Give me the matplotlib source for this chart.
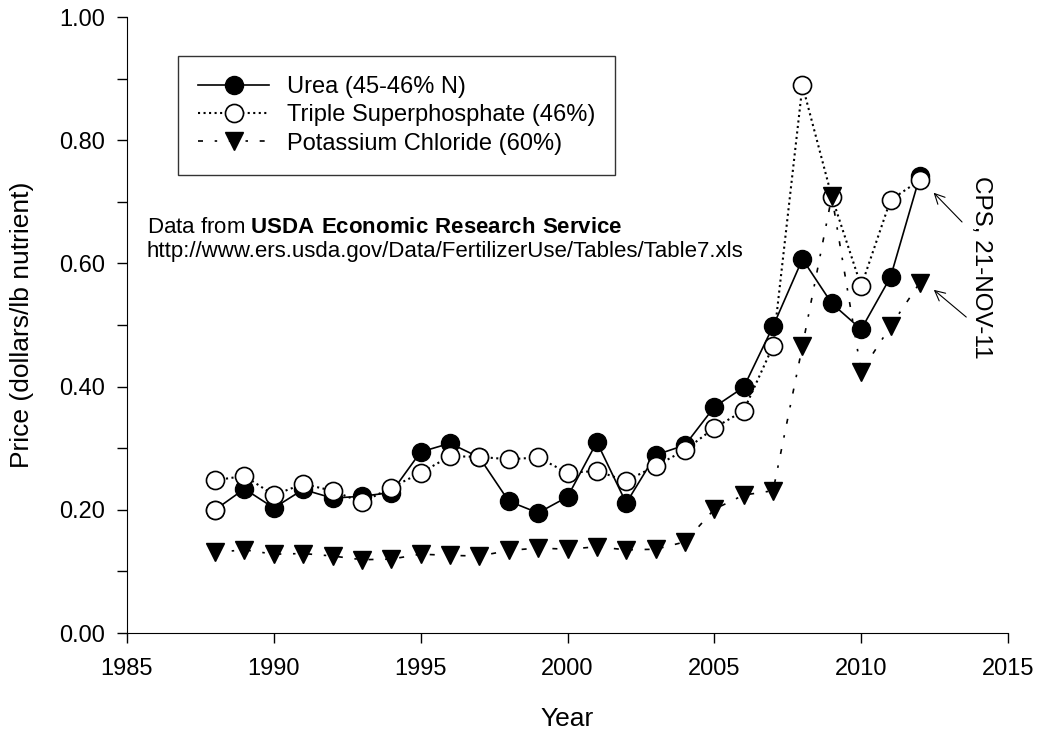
import numpy as np
import matplotlib
matplotlib.use("Agg")
import matplotlib.pyplot as plt

plt.rcParams['font.family'] = ['Liberation Sans', 'DejaVu Sans']
plt.rcParams['mathtext.fontset'] = 'custom'
plt.rcParams['mathtext.rm'] = 'Liberation Sans'
plt.rcParams['mathtext.bf'] = 'Liberation Sans:bold'

# Fertilizer prices, dollars per lb of nutrient
years = np.arange(1988, 2013)
urea = [0.200, 0.234, 0.203, 0.233, 0.219, 0.222, 0.228, 0.294, 0.308, 0.285,
        0.214, 0.195, 0.221, 0.310, 0.211, 0.289, 0.305, 0.367, 0.399, 0.498,
        0.607, 0.535, 0.493, 0.578, 0.742]
tsp = [0.248, 0.255, 0.224, 0.242, 0.231, 0.212, 0.236, 0.260, 0.287, 0.286,
       0.282, 0.285, 0.260, 0.263, 0.247, 0.271, 0.297, 0.333, 0.361, 0.466,
       0.889, 0.708, 0.563, 0.703, 0.735]
potash = [0.131, 0.135, 0.128, 0.129, 0.125, 0.119, 0.120, 0.128, 0.126, 0.125,
          0.134, 0.138, 0.136, 0.140, 0.135, 0.136, 0.148, 0.201, 0.224, 0.231,
          0.466, 0.709, 0.424, 0.498, 0.569]

labels = ['Urea (45-46% N)', 'Triple Superphosphate (46%)', 'Potassium Chloride (60%)']

fig = plt.figure(figsize=(10.39, 7.33), dpi=100)
ax = fig.add_axes([0.1222, 0.1364, 0.848, 0.8404])

ms = 13
ax.plot(years, urea, '-', color='black', lw=1.2, marker='o', ms=ms,
        mfc='black', mec='black', label=labels[0])
ax.plot(years, tsp, ':', color='black', lw=1.5, marker='o', ms=ms,
        mfc='white', mec='black', mew=1.2, label=labels[1])
ax.plot(years, potash, color='black', lw=1.2, linestyle=(0, (3, 7, 1.5, 7)),
        marker='v', ms=ms, mfc='black', mec='black', label=labels[2])
# first urea point shows as an open circle in the original
ax.plot(years[:1], urea[:1], 'o', ms=ms, mfc='white', mec='black', mew=1.2)

ax.set_xlim(1985, 2015)
ax.set_ylim(0, 1.0)
ax.set_xticks(np.arange(1985, 2016, 5))
ax.set_yticks(np.arange(0, 1.01, 0.2))
ax.set_yticks(np.arange(0.1, 1.0, 0.2), minor=True)
ax.yaxis.set_major_formatter(matplotlib.ticker.FormatStrFormatter('%.2f'))
ax.spines['top'].set_visible(False)
ax.spines['right'].set_visible(False)
ax.tick_params(axis='both', which='both', direction='out', length=7, width=1,
               labelsize=17)
ax.tick_params(axis='x', pad=11)
ax.tick_params(axis='y', pad=9)
ax.set_xlabel('Year', fontsize=19)
ax.set_ylabel('Price (dollars/lb nutrient)', fontsize=19)
ax.xaxis.set_label_coords(0.5, -0.12)
ax.yaxis.set_label_coords(-0.106, 0.5)

leg = ax.legend(loc='upper left', bbox_to_anchor=(0.058, 0.937), borderaxespad=0,
                fontsize=17, handlelength=3.0, frameon=True, fancybox=False,
                edgecolor='black', borderpad=0.85, labelspacing=0.27,
                handletextpad=0.75)
leg.get_frame().set_linewidth(1.0)

ax.text(1985.68, 0.641, 'Data from $\\mathbf{USDA\\ Economic\\ Research\\ Service}$',
        fontsize=16, va='bottom', ha='left')
ax.text(1985.68, 0.602, 'http://www.ers.usda.gov/Data/FertilizerUse/Tables/Table7.xls',
        fontsize=16, va='bottom', ha='left')

ax.text(2014.08, 0.594, 'CPS, 21-NOV-11', rotation=-90, fontsize=17.5,
        ha='center', va='center')
arrow = dict(arrowstyle='->', color='black', lw=0.8, mutation_scale=18)
ax.annotate('', xy=(2012.4, 0.718), xytext=(2013.5, 0.664), arrowprops=arrow)
ax.annotate('', xy=(2012.4, 0.560), xytext=(2013.65, 0.510), arrowprops=arrow)

fig.savefig('out.png', dpi=100)
